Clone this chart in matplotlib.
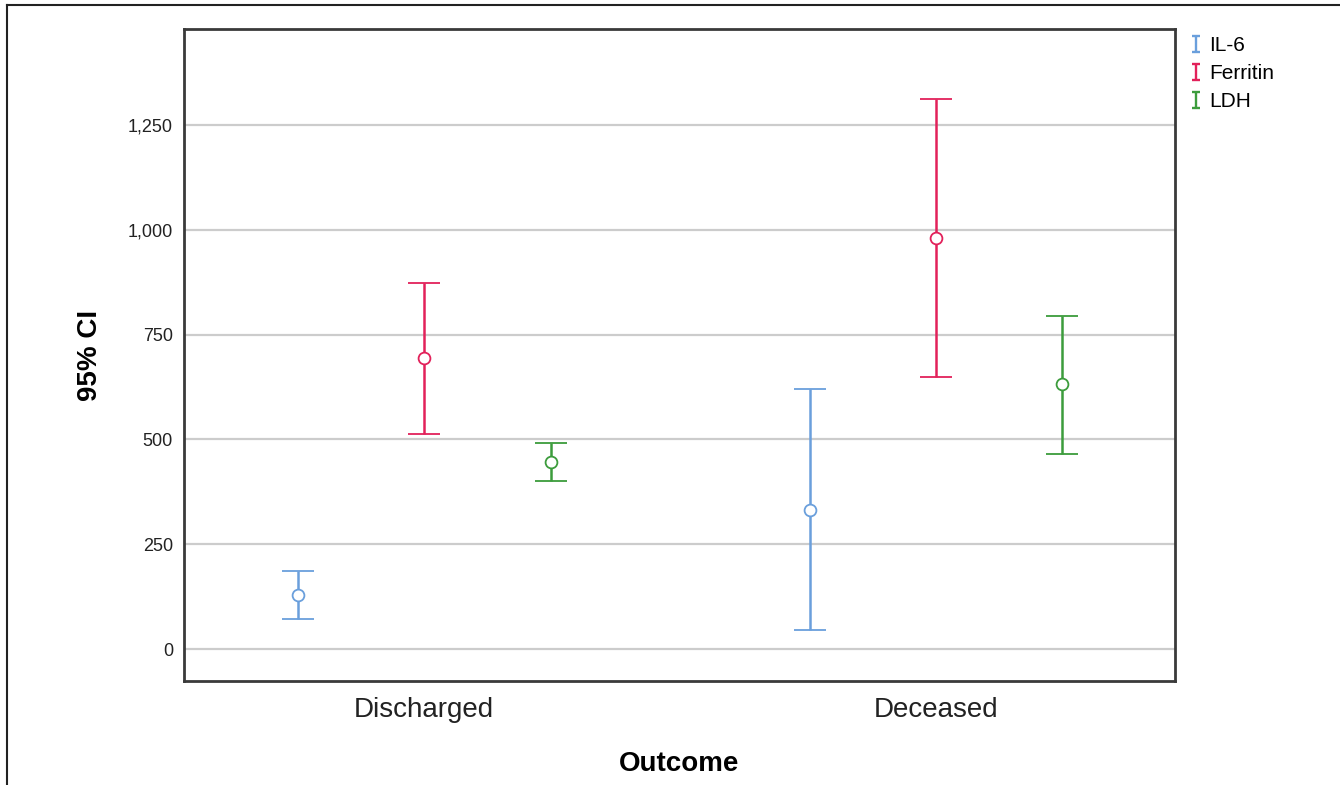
import numpy as np
import matplotlib
matplotlib.use("Agg")
import matplotlib.pyplot as plt
from matplotlib.lines import Line2D
from matplotlib.path import Path
from matplotlib.ticker import FuncFormatter

plt.rcParams["font.family"] = ["Liberation Sans", "DejaVu Sans"]

# values
outcomes = ["Discharged", "Deceased"]
markers_names = ["IL-6", "Ferritin", "LDH"]
means = {
    "IL-6": [129, 332],
    "Ferritin": [694, 980],
    "LDH": [446, 632],
}
lower = {
    "IL-6": [72, 45],
    "Ferritin": [513, 649],
    "LDH": [401, 465],
}
upper = {
    "IL-6": [186, 620],
    "Ferritin": [873, 1312],
    "LDH": [491, 794],
}
colors = {"IL-6": "#6a9fdc", "Ferritin": "#e2215a", "LDH": "#3c9c3c"}
y_ticks = [0, 250, 500, 750, 1000, 1250]

fig = plt.figure(figsize=(13.4, 7.85), dpi=100)
W, H = 1340, 785
ax = fig.add_axes([184 / W, 1 - 681 / H, (1175 - 184) / W, (681 - 29) / H])

offsets = [-0.247, 0.0, 0.247]
x = np.arange(len(outcomes))
for name, off in zip(markers_names, offsets):
    m = np.array(means[name])
    lo = m - np.array(lower[name])
    hi = np.array(upper[name]) - m
    ax.errorbar(x + off, m, yerr=[lo, hi], fmt="o", mfc="white", mec=colors[name],
                ms=8.5, mew=1.3, color=colors[name], ecolor=colors[name],
                elinewidth=1.8, capsize=11.5, capthick=1.8, zorder=3)

ax.set_xlim(-0.469, 1.467)
ax.set_ylim(-76, 1479)
ax.set_xticks(x)
ax.set_xticklabels(outcomes, fontsize=20, color="#222222")
ax.set_yticks(y_ticks)
ax.yaxis.set_major_formatter(FuncFormatter(lambda v, p: f"{int(v):,}"))
ax.tick_params(axis="both", length=0)
ax.tick_params(axis="y", labelsize=13, pad=8, labelcolor="#222222")
ax.tick_params(axis="x", pad=11.5)
ax.grid(axis="y", color="#cccccc", lw=1.6)
ax.set_axisbelow(True)
for s in ax.spines.values():
    s.set_color("#3a3a3a")
    s.set_linewidth(2)

ax.set_ylabel("95% CI", fontsize=20, fontweight="bold", labelpad=18)
ax.set_xlabel("Outcome", fontsize=20, fontweight="bold", labelpad=20)

# I-shaped legend glyph
ibar = Path([(-0.55, 1), (0.55, 1), (0, 1), (0, -1), (-0.55, -1), (0.55, -1)],
            [Path.MOVETO, Path.LINETO, Path.MOVETO, Path.LINETO, Path.MOVETO, Path.LINETO])
handles = [Line2D([], [], ls="none", marker=ibar, ms=11, mew=1.7,
                  color=colors[n], mec=colors[n]) for n in markers_names]
fig.legend(handles, markers_names, loc="upper left", bbox_to_anchor=(1178 / W, 1 - 28 / H),
           frameon=False, fontsize=15, handletextpad=0.2, labelspacing=0.42,
           handlelength=0.9, borderaxespad=0)

# outer frame of the exported picture
fig.add_artist(Line2D([7 / W, 7 / W], [0, 1 - 5 / H], color="#222222", lw=1.5))
fig.add_artist(Line2D([7 / W, 1], [1 - 5 / H, 1 - 5 / H], color="#222222", lw=1.5))

fig.savefig("out.png", dpi=100)
